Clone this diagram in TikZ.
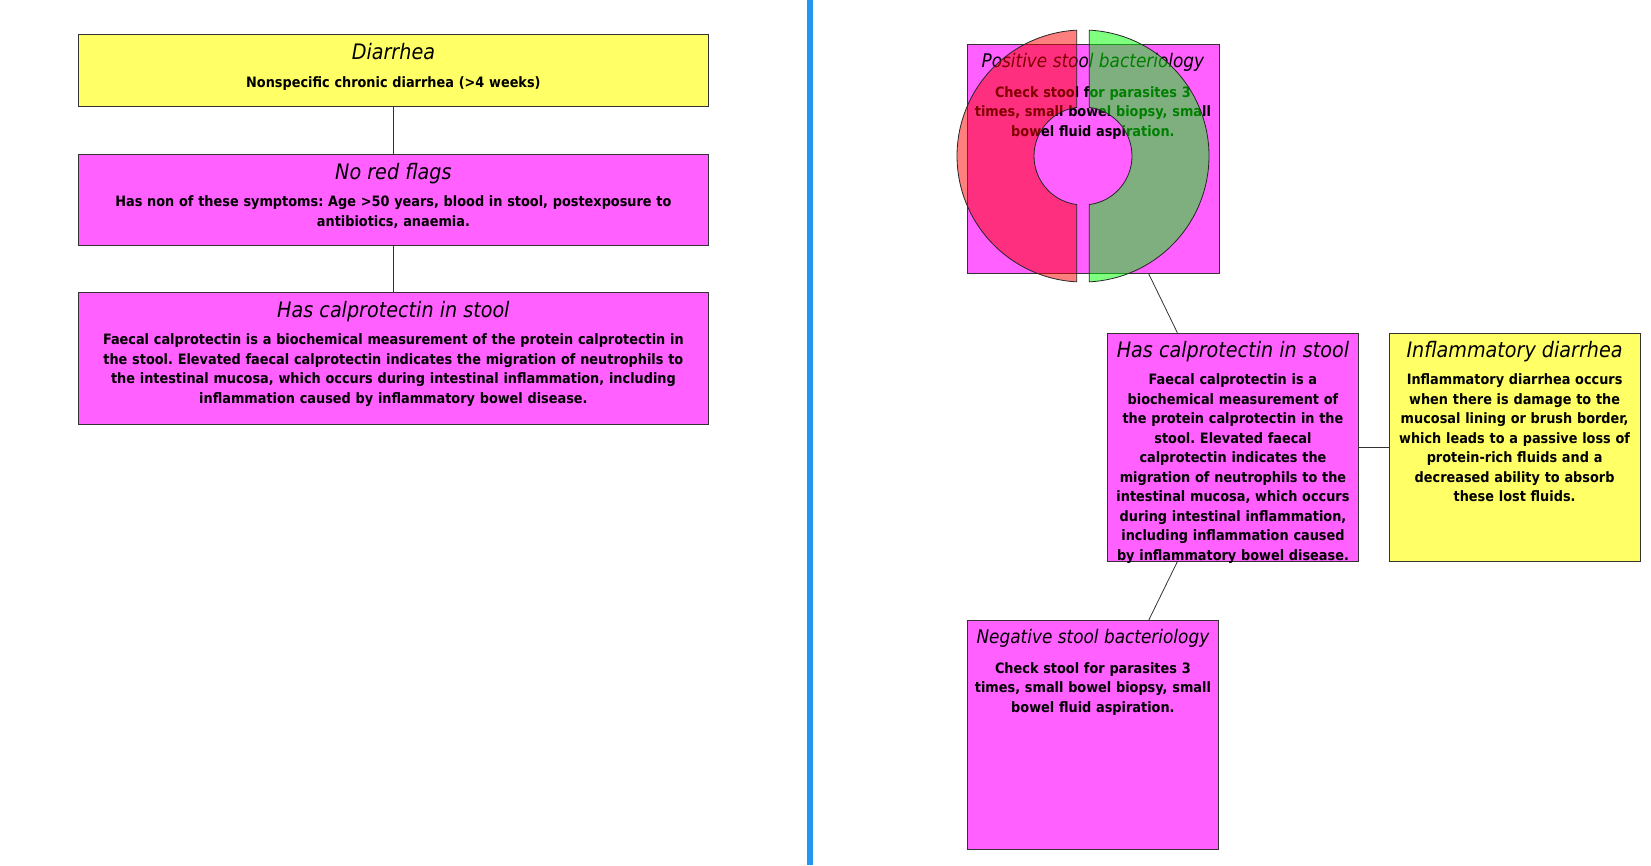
\documentclass[tikz,border=0pt]{standalone}
\usepackage{fontspec}
\setmainfont{DejaVu Sans Condensed}
\frenchspacing
\definecolor{boxyellow}{RGB}{255,255,102}
\definecolor{boxpink}{RGB}{255,96,255}
\definecolor{splitblue}{RGB}{33,150,243}

\begin{document}
\begin{tikzpicture}[x=1pt,y=-1pt,
        box/.style = {draw=black!80, line width=0.8pt, inner sep=0pt, anchor=north west},
        yellowbox/.style = {box, fill=boxyellow},
        pinkbox/.style = {box, fill=boxpink},
        ttl/.style = {anchor=base, inner sep=0pt, font=\fontsize{21.3}{24}\selectfont\itshape},
        smallttl/.style = {ttl, font=\fontsize{18.8}{22}\selectfont\itshape},
        txt/.style = {anchor=base, inner sep=0pt, align=center, font=\fontsize{14.3}{19.5}\selectfont\bfseries},
        link/.style = {draw=black!80, line width=0.8pt},
        half/.style = {draw=black!85, line width=0.8pt, fill opacity=0.5}
        ]
        \useasboundingbox[fill=white] (0,0) rectangle (1651,865);

        \draw[splitblue, line width=6pt] (810,0) -- (810,865);

        \node[yellowbox, minimum width=630pt, minimum height=72.6pt] (diarrhea) at (78,33.7) {};
        \node[pinkbox, minimum width=630pt, minimum height=91.6pt] (noflags) at (78,153.7) {};
        \node[pinkbox, minimum width=630pt, minimum height=132.7pt] (calproL) at (78,291.7) {};

        \node[pinkbox, minimum width=252pt, minimum height=229pt] (pos) at (966.5,44) {};
        \node[pinkbox, minimum width=251.7pt, minimum height=228.5pt] (calproR) at (1106.7,332.7) {};
        \node[yellowbox, minimum width=250.6pt, minimum height=228.5pt] (inflam) at (1388.9,332.7) {};
        \node[pinkbox, minimum width=251.6pt, minimum height=228.7pt] (neg) at (966.7,620) {};

        \draw[link] (diarrhea) -- (noflags);
        \draw[link] (noflags) -- (calproL);
        \draw[link] (pos) -- (calproR);
        \draw[link] (calproR) -- (neg);
        \draw[link] (calproR) -- (inflam);

        \node[ttl] (diarrhea-t) at ([yshift=-25.5pt]diarrhea.north) {Diarrhea};
        \node[txt, text width=620pt] (diarrhea-b) at ([yshift=-53.5pt]diarrhea.north)
            {Nonspecific chronic diarrhea (>4 weeks)};

        \node[ttl] (noflags-t) at ([yshift=-25.5pt]noflags.north) {No red flags};
        \node[txt, text width=620pt] (noflags-b) at ([yshift=-53pt]noflags.north)
            {Has non of these symptoms: Age >50 years, blood in stool, postexposure to\\
             antibiotics, anaemia.};

        \node[ttl] (calproL-t) at ([yshift=-25.5pt]calproL.north) {Has calprotectin in stool};
        \node[txt, text width=620pt] (calproL-b) at ([yshift=-53pt]calproL.north)
            {Faecal calprotectin is a biochemical measurement of the protein calprotectin in\\
             the stool. Elevated faecal calprotectin indicates the migration of neutrophils to\\
             the intestinal mucosa, which occurs during intestinal inflammation, including\\
             inflammation caused by inflammatory bowel disease.};

        \node[smallttl] (pos-t) at ([yshift=-23.5pt]pos.north) {Positive stool bacteriology};
        \node[txt, text width=250pt] (pos-b) at ([yshift=-53pt]pos.north)
            {Check stool for parasites 3\\ times, small bowel biopsy, small\\ bowel fluid aspiration.};

        \node[ttl] (calproR-t) at ([yshift=-24.5pt]calproR.north) {Has calprotectin in stool};
        \node[txt, text width=250pt] (calproR-b) at ([yshift=-52pt]calproR.north)
            {Faecal calprotectin is a\\ biochemical measurement of\\ the protein calprotectin in the\\
             stool. Elevated faecal\\ calprotectin indicates the\\ migration of neutrophils to the\\
             intestinal mucosa, which occurs\\ during intestinal inflammation,\\
             including inflammation caused\\ by inflammatory bowel disease.};

        \node[ttl] (inflam-t) at ([yshift=-24.5pt]inflam.north) {Inflammatory diarrhea};
        \node[txt, text width=248pt] (inflam-b) at ([yshift=-52pt]inflam.north)
            {Inflammatory diarrhea occurs\\ when there is damage to the\\ mucosal lining or brush border,\\
             which leads to a passive loss of\\ protein-rich fluids and a\\ decreased ability to absorb\\
             these lost fluids.};

        \node[smallttl] (neg-t) at ([yshift=-23.5pt]neg.north) {Negative stool bacteriology};
        \node[txt, text width=250pt] (neg-b) at ([yshift=-53pt]neg.north)
            {Check stool for parasites 3\\ times, small bowel biopsy, small\\ bowel fluid aspiration.};

        \filldraw[half, fill=red] (1076.7,30.16) arc[start angle=267.13, end angle=92.87, radius=126]
            -- (1076.7,204.59) arc[start angle=97.39, end angle=262.61, radius=49] -- cycle;
        \filldraw[half, fill=green] (1089.3,30.16) arc[start angle=-87.13, end angle=87.13, radius=126]
            -- (1089.3,204.59) arc[start angle=82.61, end angle=-82.61, radius=49] -- cycle;

    \end{tikzpicture}
\end{document}
